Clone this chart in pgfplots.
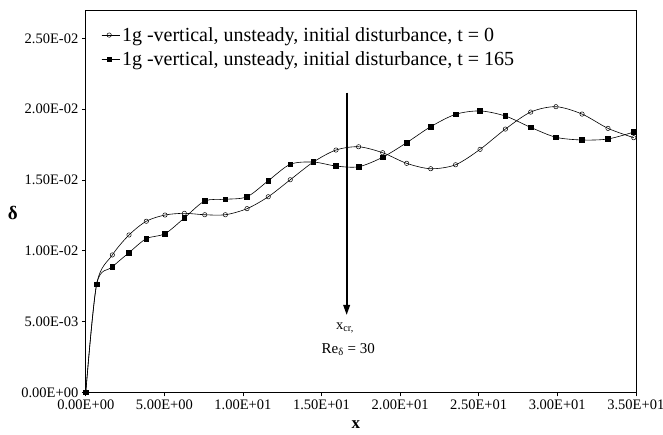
\documentclass[border=0pt]{standalone}
\usepackage{fontspec}
\setmainfont{Liberation Serif}
\usepackage{pgfplots}
\pgfplotsset{compat=1.18}
\usetikzlibrary{arrows.meta}
\begin{document}
\begin{tikzpicture}[x=1pt,y=1pt]
\useasboundingbox (-85.8,-41.7) rectangle (577.2,392.3);
\begin{axis}[
  at={(0,0)}, anchor=south west,
  width=550pt, height=381.6pt, scale only axis,
  xmin=0, xmax=35, ymin=0, ymax=0.02695,
  axis line style={black, line width=0.6pt},
  xtick={0,5,10,15,20,25,30,35},
  xticklabels={0.00E+00,5.00E+00,1.00E+01,1.50E+01,2.00E+01,2.50E+01,3.00E+01,3.50E+01},
  ytick={0,0.005,0.01,0.015,0.02,0.025},
  yticklabels={0.00E+00,5.00E-03,1.00E-02,1.50E-02,2.00E-02,2.50E-02},
  tick align=outside, major tick length=4pt,
  xtick pos=bottom, ytick pos=left,
  tick style={black, line width=0.6pt},
  ticklabel style={font=\fontsize{14.5}{17}\selectfont},
  scaled y ticks=false,
  xlabel={\textbf{x}}, ylabel={\textbf{δ}},
  xlabel style={font=\fontsize{17}{20}\selectfont, at={(0.491,0)}, anchor=center, yshift=-32pt},
  ylabel style={font=\fontsize{19}{22}\selectfont, rotate=-90, at={(0,0.47)}, anchor=center, xshift=-73pt},
  legend style={draw=none, fill=none, at={(0.028,0.962)}, anchor=north west,
    font=\fontsize{20}{24}\selectfont, row sep=5pt, inner sep=0pt},
  legend cell align=left,
  legend image code/.code={\path (0pt,0pt)--(18pt,0pt); \draw[#1,mark=none] (0pt,0pt)--(15pt,0pt); \draw[#1] plot coordinates {(7.5pt,0pt)};},
]
\addplot[black, line width=0.6pt, smooth, tension=0.5, mark=o, mark size=2.2pt, mark options={line width=0.5pt, solid}] coordinates {
(0,0) (0.69,0.00763) (1.69,0.00970) (2.75,0.01111) (3.85,0.01208) (5.04,0.01252)
(6.27,0.01264) (7.57,0.01254) (8.88,0.01254) (10.26,0.01297) (11.61,0.01381)
(13.01,0.01501) (14.48,0.01626) (15.92,0.01711) (17.36,0.01734) (18.89,0.01692)
(20.42,0.01617) (21.95,0.01579) (23.53,0.01607) (25.09,0.01716) (26.70,0.01859)
(28.31,0.01979) (29.92,0.02017) (31.58,0.01965) (33.23,0.01864) (34.87,0.01798)
};
\addlegendentry{1g -vertical, unsteady, initial disturbance, t = 0}
\addplot[black, line width=0.6pt, smooth, tension=0.5, mark=square*, mark size=2.3pt, mark options={solid}] coordinates {
(0,0) (0.69,0.00763) (1.69,0.00885) (2.75,0.00986) (3.85,0.01085) (5.04,0.01120)
(6.27,0.01231) (7.57,0.01351) (8.88,0.01363) (10.26,0.01381) (11.61,0.01494)
(13.01,0.01610) (14.48,0.01626) (15.92,0.01598) (17.36,0.01593) (18.89,0.01660)
(20.42,0.01763) (21.95,0.01876) (23.53,0.01963) (25.09,0.01987) (26.70,0.01951)
(28.31,0.01871) (29.92,0.01801) (31.58,0.01782) (33.23,0.01789) (34.87,0.01838)
};
\addlegendentry{1g -vertical, unsteady, initial disturbance, t = 165}
\draw[black, line width=1.8pt, -{Triangle[length=10pt,width=6.5pt]}] (axis cs:16.6,0.02116) -- (axis cs:16.6,0.00546);
\node[font=\fontsize{14.5}{17}\selectfont] at (axis cs:16.5,0.00455) {x\textsubscript{cr,}};
\node[font=\fontsize{15}{18}\selectfont] at (axis cs:16.7,0.00300) {Re\textsubscript{δ} = 30};
\end{axis}
\end{tikzpicture}
\end{document}
